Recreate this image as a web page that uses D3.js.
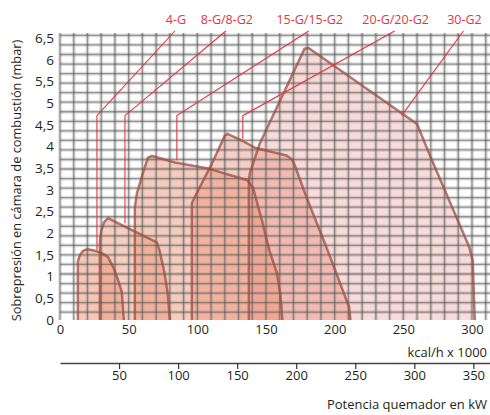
<!DOCTYPE html>
<html>
<head>
<meta charset="utf-8">
<script src="https://cdn.jsdelivr.net/npm/d3@7"></script>
<style>
  body { margin: 0; background: #fff; }
  svg { display: block; }
  text { font-family: "Open Sans", sans-serif; fill: #231f20; }
</style>
</head>
<body>
<svg id="chart" width="490" height="415"></svg>
<script>
// tick labels
var yTicks = [0, 0.5, 1, 1.5, 2, 2.5, 3, 3.5, 4, 4.5, 5, 5.5, 6, 6.5];
var kcalTicks = [0, 50, 100, 150, 200, 250, 300];
var kwTicks = [50, 100, 150, 200, 250, 300, 350];

// burner ranges: [kcal/h x 1000, mbar]
var burnerNames = ["4-G", "8-G/8-G2", "15-G/15-G2", "20-G/20-G2", "30-G2"];
var range4G = [[13, 0], [13, 1.35], [14.5, 1.5], [17, 1.6], [20, 1.63], [25, 1.6], [30, 1.55], [35, 1.45],
    [39, 1.2], [42, 0.95], [45, 0.65], [46.5, 0]];
var range8G = [[29, 0], [29, 1.8], [30, 2.05], [32, 2.25], [35, 2.35], [40, 2.27], [55, 2.03], [70.5, 1.79],
    [72.5, 1.6], [76, 1.1], [78.5, 0.6], [80, 0]];
var range15G = [[54.5, 0], [54.5, 2.6], [56, 2.92], [60, 3.35], [64, 3.74], [67, 3.78], [84, 3.63], [108, 3.49],
    [136.5, 3.22], [140.5, 3.05], [147, 2.3], [152.5, 1.6], [158, 1.08], [160.5, 0.57], [162, 0]];
var range20G = [[96, 0], [96, 2.69], [99.5, 2.92], [111, 3.63], [120, 4.25], [122, 4.29], [133, 4.13], [142, 3.97],
    [165, 3.79], [169, 3.7], [171, 3.56], [179.5, 2.83], [194, 1.68], [210.5, 0.3], [211.5, 0]];
var range30G = [[137.5, 0], [137.5, 3.2], [138.2, 3.38], [145.5, 4.07], [178, 6.25], [181, 6.27], [260, 4.52],
    [271, 3.67], [298, 1.68], [300.5, 1.38], [302, 0]];

// label callouts (kcal position of the label, leader end point)
var labelKcal = [84.4, 121.5, 181.8, 244.4, 294.5];
var leaderKcal = [26.9, 47.3, 85.1, 133.1, 248.7];
var leaderMbar = [1.61, 2.23, 3.68, 4.18, 4.71];

var ranges = [range30G, range20G, range15G, range8G, range4G];
var fillColor = ["#f0a8a2", "#ec8e78", "#ef8f6e", "#ef8f6e", "#ef8f6e"];
var fillOpacity = [0.4, 0.44, 0.46, 0.44, 0.5];

var svg = d3.select("#chart");
var plotLeft = 60, plotRight = 490, plotTop = 33, plotBottom = 320;
var KW_TO_KCAL = 0.86;

var x = d3.scaleLinear().domain([0, 300]).range([60, 472]);
var y = d3.scaleLinear().domain([0, 6.5]).range([320, 38]);
var xMax = x.invert(plotRight);
var xKw = d3.scaleLinear().domain([0, xMax / KW_TO_KCAL]).range([plotLeft, plotRight]);

var line = d3.line()
    .x(function (d) { return x(d[0]); })
    .y(function (d) { return y(d[1]); });

// fills
svg.append("g").selectAll("path")
    .data(ranges)
    .enter().append("path")
    .attr("d", function (d) { return line(d) + "Z"; })
    .attr("fill", function (d, i) { return fillColor[i]; })
    .attr("fill-opacity", function (d, i) { return fillOpacity[i]; })
    .attr("stroke", "none");

// grid paper
var grid = svg.append("g");
var vLines = d3.range(0, xMax, 10);
var hLines = d3.range(0.18, 6.6, 0.22);
[[3.8, "#9a9a9a", 0.33], [1.3, "#484848", 0.5]].forEach(function (s) {
    grid.append("g").selectAll("line")
        .data(vLines)
        .enter().append("line")
        .attr("x1", function (d) { return x(d); })
        .attr("x2", function (d) { return x(d); })
        .attr("y1", plotTop).attr("y2", plotBottom)
        .attr("stroke", s[1]).attr("stroke-width", s[0]).attr("stroke-opacity", s[2]);
    grid.append("g").selectAll("line")
        .data(hLines)
        .enter().append("line")
        .attr("x1", plotLeft).attr("x2", plotRight)
        .attr("y1", function (d) { return y(d); })
        .attr("y2", function (d) { return y(d); })
        .attr("stroke", s[1]).attr("stroke-width", s[0]).attr("stroke-opacity", s[2]);
});

// outlines
svg.append("g").selectAll("path")
    .data(ranges)
    .enter().append("path")
    .attr("d", function (d) { return line(d); })
    .attr("fill", "none")
    .attr("stroke", "#9a4d40")
    .attr("stroke-opacity", 0.75)
    .attr("stroke-width", 2.5)
    .attr("stroke-linejoin", "round");

// callouts
var red = "#e5333f";
var labels = svg.append("g");
burnerNames.forEach(function (name, i) {
    var lx = x(labelKcal[i]);
    var ex = x(leaderKcal[i]);
    var elbowY = y(4.71);
    var pts = [[lx - 1, 31], [ex, elbowY], [ex, y(leaderMbar[i])]];
    labels.append("path")
        .attr("d", d3.line()(pts))
        .attr("fill", "none")
        .attr("stroke", red)
        .attr("stroke-width", 1.1);
    labels.append("text")
        .attr("x", lx).attr("y", 24)
        .attr("text-anchor", "middle")
        .attr("font-size", 12.5)
        .style("fill", red)
        .text(name);
});

var comma = function (d) { return String(d).replace(".", ","); };

// y axis
var yAxis = svg.append("g")
    .attr("transform", "translate(" + (plotLeft - 6) + ",0)")
    .call(d3.axisLeft(y).tickValues(yTicks).tickFormat(comma).tickSize(0).tickPadding(0));
yAxis.select(".domain").remove();
yAxis.selectAll("text").attr("font-size", 13.5).style("font-family", "'Open Sans', sans-serif").style("fill", "#231f20");

// kcal axis
var xAxis = svg.append("g")
    .attr("transform", "translate(0," + (plotBottom + 5) + ")")
    .call(d3.axisBottom(x).tickValues(kcalTicks).tickSize(0).tickPadding(0));
xAxis.select(".domain").remove();
xAxis.selectAll("text").attr("font-size", 13).style("font-family", "'Open Sans', sans-serif").style("fill", "#231f20");

svg.append("text")
    .attr("x", 487).attr("y", 357)
    .attr("text-anchor", "end")
    .attr("font-size", 13)
    .text("kcal/h x 1000");

// kW axis
var kwAxis = svg.append("g")
    .attr("transform", "translate(0,363)")
    .call(d3.axisBottom(xKw).tickValues(kwTicks).tickSize(6).tickSizeOuter(0).tickPadding(2));
kwAxis.select(".domain").attr("stroke", "#444").attr("stroke-width", 1.3);
kwAxis.selectAll(".tick line").attr("stroke", "#333").attr("stroke-width", 1.2);
kwAxis.selectAll("text").attr("font-size", 13).style("font-family", "'Open Sans', sans-serif").style("fill", "#231f20");

svg.append("text")
    .attr("x", 487).attr("y", 409)
    .attr("text-anchor", "end")
    .attr("font-size", 13)
    .text("Potencia quemador en kW");

svg.append("text")
    .attr("transform", "translate(21," + ((plotTop + plotBottom) / 2 + 4) + ") rotate(-90)")
    .attr("text-anchor", "middle")
    .attr("font-size", 12.8)
    .text("Sobrepresión en cámara de combustión (mbar)");
</script>
</body>
</html>
